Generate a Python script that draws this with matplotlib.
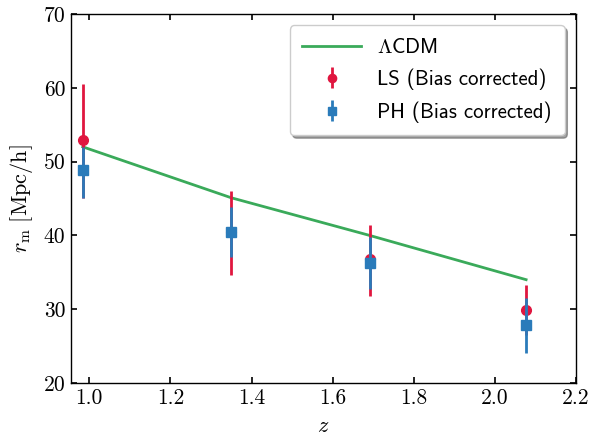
import matplotlib
matplotlib.use("Agg")
import matplotlib.pyplot as plt

# Data
z = [0.984, 1.350, 1.691, 2.077]
lcdm = [52.0, 45.1, 40.0, 34.0]
ls_val = [52.9, 40.4, 36.8, 29.9]
ls_err_lo = [7.8, 5.7, 5.0, 3.4]
ls_err_hi = [7.6, 5.6, 4.6, 3.4]
ph_val = [48.8, 40.5, 36.2, 27.9]
ph_err_lo = [3.7, 3.4, 3.5, 3.9]
ph_err_hi = [3.2, 3.4, 3.6, 3.6]
xticks = [1.0, 1.2, 1.4, 1.6, 1.8, 2.0, 2.2]
yticks = [20, 30, 40, 50, 60, 70]

plt.rcParams['mathtext.fontset'] = 'cm'

fig = plt.figure(figsize=(5.92, 4.36), dpi=100)
ax = fig.add_axes([71/592, 1 - 383/436, (576-71)/592, (383-14)/436])

green = '#3AAA5A'
red = '#E0163F'
blue = '#2A7BBA'

ax.plot(z, lcdm, color=green, lw=2, label=r'$\Lambda$CDM', zorder=1)
ax.errorbar(z, ls_val, yerr=[ls_err_lo, ls_err_hi], fmt='o', color=red,
            ms=7, elinewidth=2, capsize=0, label='LS (Bias corrected)', zorder=2)
ax.errorbar(z, ph_val, yerr=[ph_err_lo, ph_err_hi], fmt='s', color=blue,
            ms=7, elinewidth=2, capsize=0, label='PH (Bias corrected)', zorder=3)

ax.set_xlim(0.955, 2.2)
ax.set_ylim(20, 70)
ax.set_xticks(xticks)
ax.set_yticks(yticks)
ax.set_xticklabels([f'{t:.1f}' for t in xticks], family='cmr10', fontsize=15.5)
ax.set_yticklabels([f'{t:d}' for t in yticks], family='cmr10', fontsize=15.5)
ax.tick_params(direction='in', top=True, right=True, length=4, width=1.2, pad=4)

ax.set_xlabel(r'$z$', fontsize=16, labelpad=6)
ax.set_ylabel(r'$r_{\rm m}\ [\rm Mpc/h]$', fontsize=16, labelpad=6)

for s in ax.spines.values():
    s.set_linewidth(1.0)

leg = ax.legend(loc='upper right', shadow=True, fancybox=True,
                prop={'family': 'cmss10', 'size': 15}, handlelength=2.8,
                handletextpad=0.8, borderpad=0.6, labelspacing=0.55,
                borderaxespad=0.55, markerscale=0.85)

fig.savefig('out.png', dpi=100)
